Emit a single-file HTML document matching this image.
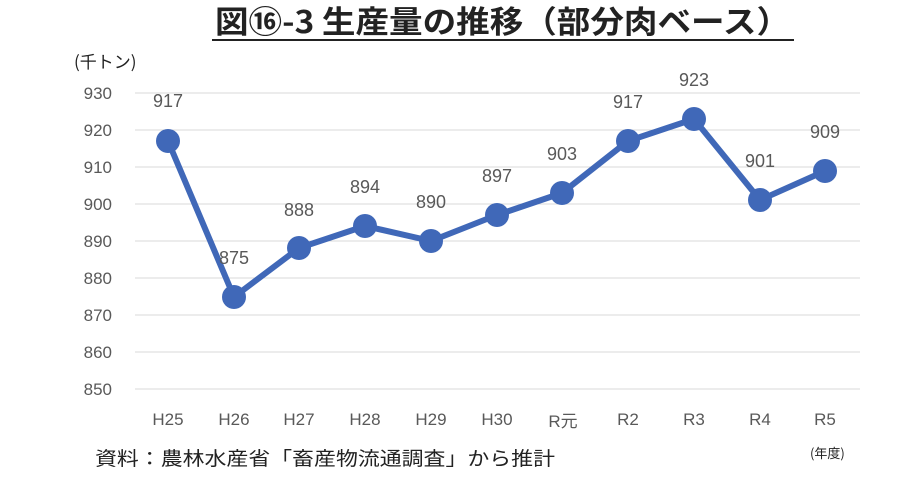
<!DOCTYPE html>
<html><head><meta charset="utf-8"><style>
body{margin:0;background:#fff;}
svg text{font-family:"Liberation Sans","Noto Sans CJK JP",sans-serif;}
</style></head><body>
<svg width="910" height="480" xmlns="http://www.w3.org/2000/svg">
<text x="215" y="33" textLength="575" lengthAdjust="spacingAndGlyphs" font-size="31" font-weight="bold" fill="#222" style="font-family:'Noto Sans CJK JP',sans-serif">図⑯-3  生産量の推移（部分肉ベース）</text>
<line x1="212" y1="40" x2="794" y2="40" stroke="#222" stroke-width="2"/>
<text x="74" y="68" font-size="17" fill="#222" style="font-family:'Noto Sans CJK JP',sans-serif">(千トン)</text>
<g stroke="#d9d9d9" stroke-width="1">
<line x1="135" x2="860" y1="93" y2="93"/><line x1="135" x2="860" y1="130" y2="130"/>
<line x1="135" x2="860" y1="167" y2="167"/><line x1="135" x2="860" y1="204" y2="204"/>
<line x1="135" x2="860" y1="241" y2="241"/><line x1="135" x2="860" y1="278" y2="278"/>
<line x1="135" x2="860" y1="315" y2="315"/><line x1="135" x2="860" y1="352" y2="352"/>
<line x1="135" x2="860" y1="389" y2="389"/>
</g>
<g font-size="17" fill="#595959" text-anchor="end">
<text x="112" y="99">930</text><text x="112" y="136">920</text><text x="112" y="173">910</text>
<text x="112" y="210">900</text><text x="112" y="247">890</text><text x="112" y="284">880</text>
<text x="112" y="321">870</text><text x="112" y="358">860</text><text x="112" y="395">850</text>
</g>
<g font-size="17" fill="#595959" text-anchor="middle" style="font-family:'Liberation Sans','Noto Sans CJK JP',sans-serif">
<text x="168" y="425">H25</text><text x="234" y="425">H26</text><text x="299" y="425">H27</text>
<text x="365" y="425">H28</text><text x="431" y="425">H29</text><text x="497" y="425">H30</text>
<text x="563" y="427">R元</text><text x="628" y="425">R2</text><text x="694" y="425">R3</text>
<text x="760" y="425">R4</text><text x="825" y="425">R5</text>
</g>
<polyline fill="none" stroke="#4068B8" stroke-width="6" stroke-linejoin="round"
points="168,141 234,297 299,248 365,226 431,241 497,215 562,193 628,141 694,119 760,200 825,171"/>
<g fill="#4068B8">
<circle cx="168" cy="141" r="12"/><circle cx="234" cy="297" r="12"/><circle cx="299" cy="248" r="12"/>
<circle cx="365" cy="226" r="12"/><circle cx="431" cy="241" r="12"/><circle cx="497" cy="215" r="12"/>
<circle cx="562" cy="193" r="12"/><circle cx="628" cy="141" r="12"/><circle cx="694" cy="119" r="12"/>
<circle cx="760" cy="200" r="12"/><circle cx="825" cy="171" r="12"/>
</g>
<g font-size="18" fill="#595959" text-anchor="middle">
<text x="168" y="107">917</text><text x="234" y="264">875</text><text x="299" y="216">888</text>
<text x="365" y="193">894</text><text x="431" y="208">890</text><text x="497" y="182">897</text>
<text x="562" y="160">903</text><text x="628" y="108">917</text><text x="694" y="86">923</text>
<text x="760" y="167">901</text><text x="825" y="138">909</text>
</g>
<text x="95" y="465" textLength="460" lengthAdjust="spacingAndGlyphs" font-size="19" fill="#222" style="font-family:'Noto Sans CJK JP',sans-serif">資料：農林水産省「畜産物流通調査」から推計</text>
<text x="810" y="458" font-size="13" fill="#222" style="font-family:'Noto Sans CJK JP',sans-serif">(年度)</text>
</svg>
</body></html>
